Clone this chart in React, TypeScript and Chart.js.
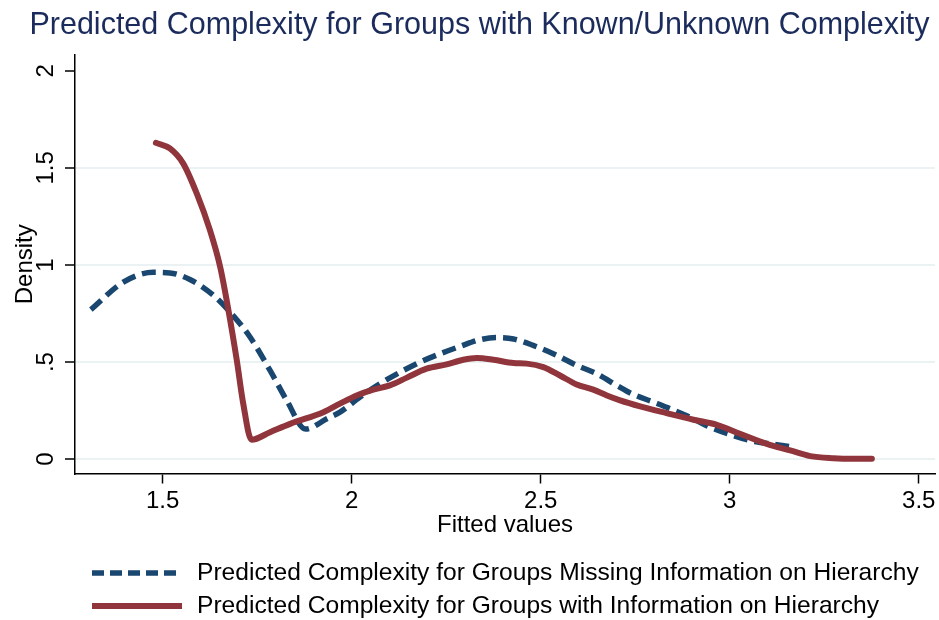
import React, { useEffect, useRef } from "react";
import { Chart, registerables } from "chart.js";

Chart.register(...registerables);

const FONT = '"Liberation Sans", Arial, Helvetica, sans-serif';

const TITLE = "Predicted Complexity for Groups with Known/Unknown Complexity";
const X_TITLE = "Fitted values";
const Y_TITLE = "Density";

const X_TICKS = [1.5, 2, 2.5, 3, 3.5];
const X_TICK_LABELS = ["1.5", "2", "2.5", "3", "3.5"];
const Y_TICKS = [0, 0.5, 1, 1.5, 2];
const Y_TICK_LABELS = ["0", ".5", "1", "1.5", "2"];

const MISSING_LABEL = "Predicted Complexity for Groups Missing Information on Hierarchy";
const KNOWN_LABEL = "Predicted Complexity for Groups with Information on Hierarchy";

// Kernel density of fitted values, groups missing hierarchy information
const MISSING_X = [
  1.31, 1.396, 1.475, 1.519, 1.572, 1.634, 1.678, 1.731, 1.784, 1.828, 1.878,
  1.934, 1.969, 2.022, 2.075, 2.128, 2.181, 2.234, 2.287, 2.339, 2.384, 2.428,
  2.48, 2.542, 2.595, 2.648, 2.701, 2.74, 2.798, 2.842, 2.895, 2.948, 3.001,
  3.054, 3.107, 3.16, 3.173,
];
const MISSING_Y = [
  0.77, 0.912, 0.962, 0.959, 0.925, 0.844, 0.758, 0.629, 0.457, 0.303, 0.155,
  0.208, 0.242, 0.32, 0.389, 0.448, 0.5, 0.543, 0.581, 0.615, 0.626, 0.619,
  0.586, 0.535, 0.483, 0.44, 0.38, 0.338, 0.294, 0.26, 0.216, 0.165, 0.127,
  0.096, 0.079, 0.065, 0.062,
];

// Kernel density of fitted values, groups with hierarchy information
const KNOWN_X = [
  1.482, 1.519, 1.554, 1.59, 1.625, 1.652, 1.674, 1.696, 1.713, 1.735, 1.784,
  1.837, 1.925, 1.969, 2.013, 2.057, 2.101, 2.146, 2.198, 2.251, 2.295, 2.331,
  2.375, 2.428, 2.463, 2.507, 2.551, 2.595, 2.639, 2.675, 2.71, 2.763, 2.833,
  2.904, 2.966, 3.027, 3.098, 3.16, 3.213, 3.274, 3.327, 3.376,
];
const KNOWN_Y = [
  1.629, 1.6, 1.523, 1.368, 1.179, 0.99, 0.766, 0.509, 0.286, 0.1, 0.139,
  0.182, 0.242, 0.286, 0.328, 0.358, 0.38, 0.42, 0.466, 0.488, 0.512, 0.521,
  0.512, 0.495, 0.492, 0.474, 0.431, 0.385, 0.358, 0.328, 0.303, 0.272, 0.237,
  0.203, 0.177, 0.131, 0.079, 0.045, 0.016, 0.005, 0.002, 0.002,
];

const BLUE = "#1a476f";
const MAROON = "#90353b";
const GRID = "#eaf2f3";

const toPoints = (xs: number[], ys: number[]) => xs.map((x, i) => ({ x, y: ys[i] }));

// Two-row legend under the plot, line sample followed by its label
const bottomLegend = {
  id: "bottomLegend",
  afterDraw(chart: any) {
    const { ctx } = chart;
    const entries = [...chart.data.datasets].sort(
      (a: any, b: any) => a.legendRank - b.legendRank
    );
    ctx.save();
    entries.forEach((ds: any, i: number) => {
      const y = 573 + i * 33;
      ctx.beginPath();
      ctx.strokeStyle = ds.borderColor;
      ctx.lineWidth = ds.borderWidth;
      ctx.lineCap = "butt";
      ctx.setLineDash(ds.borderDash ? [12, 6] : []);
      ctx.moveTo(92, y);
      ctx.lineTo(182, y);
      ctx.stroke();
      ctx.setLineDash([]);
      ctx.fillStyle = "#000";
      ctx.font = `24.6px ${FONT}`;
      ctx.textBaseline = "middle";
      ctx.textAlign = "left";
      ctx.fillText(ds.label, 197, y);
    });
    ctx.restore();
  },
};

export default function App() {
  const canvasRef = useRef<HTMLCanvasElement | null>(null);

  useEffect(() => {
    if (!canvasRef.current) return;
    const chart = new Chart(canvasRef.current, {
      type: "line",
      data: {
        datasets: [
          {
            label: MISSING_LABEL,
            data: toPoints(MISSING_X, MISSING_Y),
            borderColor: BLUE,
            borderWidth: 5.5,
            borderDash: [14, 7],
            borderCapStyle: "butt",
            pointRadius: 0,
            cubicInterpolationMode: "monotone",
            fill: false,
            order: 2,
            legendRank: 0,
          } as any,
          {
            label: KNOWN_LABEL,
            data: toPoints(KNOWN_X, KNOWN_Y),
            borderColor: MAROON,
            borderWidth: 6,
            borderCapStyle: "round",
            borderJoinStyle: "round",
            pointRadius: 0,
            cubicInterpolationMode: "monotone",
            fill: false,
            order: 1,
            legendRank: 1,
          } as any,
        ],
      },
      options: {
        responsive: false,
        animation: false,
        devicePixelRatio: 1,
        layout: { padding: { top: 0, right: 4, bottom: 80, left: 24 } },
        plugins: {
          legend: { display: false },
          tooltip: { enabled: false },
          title: {
            display: true,
            text: TITLE,
            color: "#1a2b5c",
            font: { family: FONT, size: 30.5, weight: "normal", lineHeight: 1.2 },
            padding: { top: 7.5, bottom: 10.9 },
          },
        },
        scales: {
          x: {
            type: "linear",
            min: 1.268,
            max: 3.543,
            afterBuildTicks: (s: any) => {
              s.ticks = X_TICKS.map((v) => ({ value: v }));
            },
            afterFit: (s: any) => {
              s.height = 66.5;
            },
            ticks: {
              autoSkip: false,
              maxRotation: 0,
              padding: 3,
              color: "#000",
              font: { family: FONT, size: 24 },
              callback: (v: any) => X_TICK_LABELS[X_TICKS.indexOf(Number(v))] ?? "",
            },
            grid: {
              drawOnChartArea: false,
              tickColor: "#000",
              tickLength: 10,
              tickWidth: 1.5,
            },
            border: { display: true, color: "#000", width: 1.5 },
            title: {
              display: true,
              text: X_TITLE,
              color: "#000",
              font: { family: FONT, size: 24 },
              padding: { top: 0, bottom: 0 },
            },
          },
          y: {
            type: "linear",
            min: -0.0737,
            max: 2.081,
            afterBuildTicks: (s: any) => {
              s.ticks = Y_TICKS.map((v) => ({ value: v }));
            },
            afterFit: (s: any) => {
              s.width = 51;
            },
            ticks: {
              autoSkip: false,
              minRotation: 90,
              maxRotation: 90,
              crossAlign: "center",
              padding: 2,
              color: "#000",
              font: { family: FONT, size: 24 },
              callback: (v: any) => Y_TICK_LABELS[Y_TICKS.indexOf(Number(v))] ?? "",
            },
            grid: {
              color: (c: any) =>
                c.tick && c.tick.value === Y_TICKS[Y_TICKS.length - 1] ? "rgba(0,0,0,0)" : GRID,
              lineWidth: 2,
              tickColor: "#000",
              tickLength: 10,
              tickWidth: 1.5,
            },
            border: { display: true, color: "#000", width: 1.5 },
            title: {
              display: true,
              text: Y_TITLE,
              color: "#000",
              font: { family: FONT, size: 24, lineHeight: 0.05 },
              padding: { top: 0.4, bottom: 0 },
            },
          },
        },
      } as any,
      plugins: [bottomLegend],
    });
    return () => chart.destroy();
  }, []);

  return (
    <div style={{ position: "absolute", left: 0, top: 0, width: 939, height: 620, background: "#fff" }}>
      <canvas ref={canvasRef} width={939} height={620} />
    </div>
  );
}
